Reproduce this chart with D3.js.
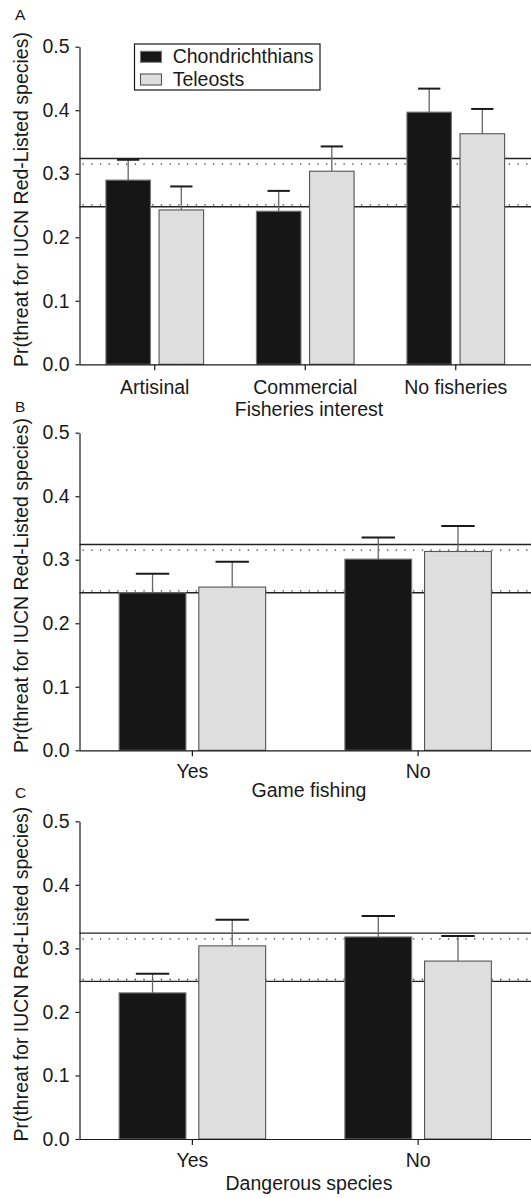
<!DOCTYPE html>
<html>
<head>
<meta charset="utf-8">
<script src="https://cdn.jsdelivr.net/npm/d3@7/dist/d3.min.js"></script>
<style>
  html, body { margin: 0; padding: 0; background: #fff; }
  svg { display: block; }
  text { font-family: "Liberation Sans", Arial, Helvetica, sans-serif; fill: #1a1a1a; }
</style>
</head>
<body>
<svg id="chart" width="531" height="1198"></svg>
<script>
// ---- data ----
const seriesNames = ["Chondrichthians", "Teleosts"];
const yTickValues = [0, 0.1, 0.2, 0.3, 0.4, 0.5];
const yTitle = "Pr(threat for IUCN Red-Listed species)";

// overall reference band (solid) and inner band (dotted)
const refSolid = [0.248, 0.324];
const refDotted = [0.251, 0.315];

// Panel A: fisheries interest
const fisheriesCats = ["Artisinal", "Commercial", "No fisheries"];
const chondFisheries = [0.290, 0.241, 0.397];
const chondFisheriesUpper = [0.322, 0.273, 0.434];
const teleFisheries = [0.243, 0.304, 0.363];
const teleFisheriesUpper = [0.280, 0.343, 0.402];

// Panel B: game fishing
const gameCats = ["Yes", "No"];
const chondGame = [0.248, 0.301];
const chondGameUpper = [0.278, 0.335];
const teleGame = [0.257, 0.313];
const teleGameUpper = [0.297, 0.353];

// Panel C: dangerous species
const dangerCats = ["Yes", "No"];
const chondDanger = [0.230, 0.318];
const chondDangerUpper = [0.260, 0.351];
const teleDanger = [0.304, 0.280];
const teleDangerUpper = [0.345, 0.3195];

// ---- panel setup ----
const panels = [
  { letter: "A", title: "Fisheries interest", cats: fisheriesCats,
    vals: [chondFisheries, teleFisheries], upper: [chondFisheriesUpper, teleFisheriesUpper],
    top: 46.7, bottom: 364.3, letterY: 20, tickLabelDy: 30, titleDy: 51.7, legend: true },
  { letter: "B", title: "Game fishing", cats: gameCats,
    vals: [chondGame, teleGame], upper: [chondGameUpper, teleGameUpper],
    top: 432.7, bottom: 750.3, letterY: 411.7, tickLabelDy: 28, titleDy: 46.4, legend: false },
  { letter: "C", title: "Dangerous species", cats: dangerCats,
    vals: [chondDanger, teleDanger], upper: [chondDangerUpper, teleDangerUpper],
    top: 821.3, bottom: 1139, letterY: 798, tickLabelDy: 28, titleDy: 51, legend: false }
];

const axisX = 79.5, rightX = 531;
const fontSize = 19.5;
const fills = ["#161616", "#dedede"];
const strokes = ["#777", "#555"];

const svg = d3.select("#chart");

panels.forEach(p => {
  const g = svg.append("g");

  const x = d3.scaleBand().domain(p.cats).range([axisX, rightX]).paddingInner(0).paddingOuter(0);
  const bw = x.bandwidth();
  const xs = d3.scaleBand().domain(seriesNames)
    .range([bw * (0.5 - 0.3245), bw * (0.5 + 0.3245)])
    .paddingInner(0.1615).paddingOuter(0);
  const y = d3.scaleLinear().domain([0, 0.5]).range([p.bottom, p.top]);

  // reference lines behind the bars
  g.selectAll("line.ref-solid").data(refSolid).join("line")
    .attr("x1", axisX).attr("x2", rightX)
    .attr("y1", d => y(d)).attr("y2", d => y(d))
    .attr("stroke", "#222").attr("stroke-width", 1.3);
  g.selectAll("line.ref-dot").data(refDotted).join("line")
    .attr("x1", axisX + 3).attr("x2", rightX)
    .attr("y1", d => y(d)).attr("y2", d => y(d))
    .attr("stroke", "#333").attr("stroke-width", 1.3)
    .attr("stroke-dasharray", "1.3,7.4");

  // bars
  const records = [];
  p.cats.forEach((c, i) => {
    seriesNames.forEach((s, k) => {
      records.push({ cat: c, series: s, k: k, v: p.vals[k][i], up: p.upper[k][i] });
    });
  });

  g.selectAll("rect.bar").data(records).join("rect")
    .attr("x", d => x(d.cat) + xs(d.series))
    .attr("y", d => y(d.v))
    .attr("width", xs.bandwidth())
    .attr("height", d => y(0) - y(d.v))
    .attr("fill", d => fills[d.k])
    .attr("stroke", d => strokes[d.k])
    .attr("stroke-width", 1.1);

  // error bars (upper only)
  const cx = d => x(d.cat) + xs(d.series) + xs.bandwidth() / 2;
  g.selectAll("line.stem").data(records).join("line")
    .attr("x1", cx).attr("x2", cx)
    .attr("y1", d => y(d.v)).attr("y2", d => y(d.up))
    .attr("stroke", "#666").attr("stroke-width", 1.3);
  g.selectAll("line.cap").data(records).join("line")
    .attr("x1", d => cx(d) - xs.bandwidth() / 4)
    .attr("x2", d => cx(d) + xs.bandwidth() / 4)
    .attr("y1", d => y(d.up)).attr("y2", d => y(d.up))
    .attr("stroke", "#1a1a1a").attr("stroke-width", 2);

  // y axis
  const yAxis = g.append("g").attr("transform", `translate(${axisX},0)`)
    .call(d3.axisLeft(y).tickValues(yTickValues).tickFormat(d3.format(".1f"))
      .tickSize(4).tickPadding(6).tickSizeOuter(0));
  yAxis.selectAll("text").attr("font-size", fontSize).attr("font-family", null);
  yAxis.selectAll("path, line").attr("stroke", "#1a1a1a").attr("stroke-width", 1.2);

  // x axis
  const xAxis = g.append("g").attr("transform", `translate(0,${p.bottom})`)
    .call(d3.axisBottom(x).tickSize(6).tickSizeOuter(0));
  xAxis.select("path.domain").attr("d", `M${axisX},0.5H${rightX}`);
  xAxis.selectAll("path, line").attr("stroke", "#1a1a1a").attr("stroke-width", 1.2);
  xAxis.selectAll("text").attr("font-size", fontSize).attr("font-family", null)
    .attr("y", p.tickLabelDy).attr("dy", null);

  // axis titles
  g.append("text")
    .attr("x", 309).attr("y", p.bottom + p.titleDy)
    .attr("text-anchor", "middle").attr("font-size", fontSize)
    .text(p.title);
  g.append("text")
    .attr("transform", `translate(28,${(p.top + p.bottom) / 2 - 6}) rotate(-90)`)
    .attr("text-anchor", "middle").attr("font-size", fontSize)
    .text(yTitle);

  // panel letter
  g.append("text").attr("x", 15).attr("y", p.letterY)
    .attr("font-size", 15.5).text(p.letter);

  // legend
  if (p.legend) {
    const lg = g.append("g");
    lg.append("rect").attr("x", 134.5).attr("y", 44).attr("width", 185.5).attr("height", 46)
      .attr("fill", "#fff").attr("stroke", "#1a1a1a").attr("stroke-width", 1.2);
    const rows = [63.3, 86];
    seriesNames.forEach((s, k) => {
      lg.append("rect").attr("x", 140.5).attr("y", rows[k] - 12).attr("width", 21).attr("height", 11)
        .attr("fill", fills[k]).attr("stroke", strokes[k]).attr("stroke-width", 1.1);
      lg.append("text").attr("x", 172.7).attr("y", rows[k])
        .attr("font-size", fontSize).text(s);
    });
  }
});
</script>
</body>
</html>
